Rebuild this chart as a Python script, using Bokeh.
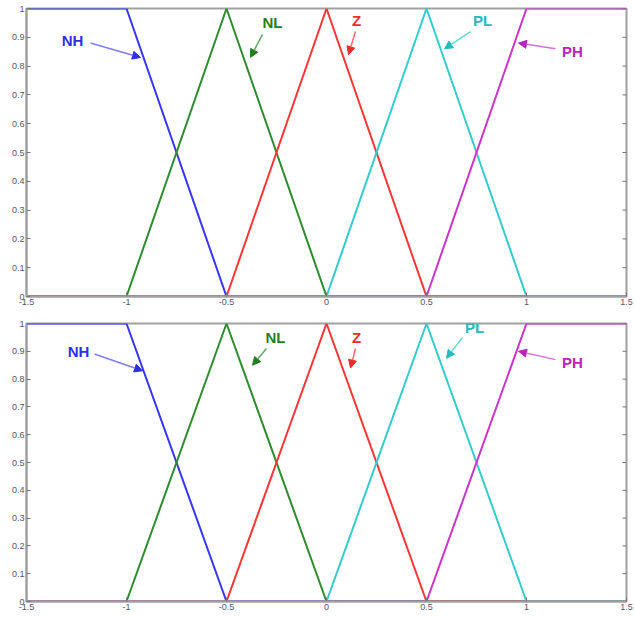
from bokeh.plotting import figure
from bokeh.models import Arrow, NormalHead, Label, FixedTicker, Range1d
from bokeh.layouts import column
from bokeh.embed import file_html
from bokeh.resources import INLINE

# membership functions (breakpoints)
mf_names = ["NH", "NL", "Z", "PL", "PH"]
NH_x = [-1.5, -1.0, -0.5, 1.5]
NH_y = [1, 1, 0, 0]
NL_x = [-1.5, -1.0, -0.5, 0.0, 1.5]
NL_y = [0, 0, 1, 0, 0]
Z_x = [-1.5, -0.5, 0.0, 0.5, 1.5]
Z_y = [0, 0, 1, 0, 0]
PL_x = [-1.5, 0.0, 0.5, 1.0, 1.5]
PL_y = [0, 0, 1, 0, 0]
PH_x = [-1.5, 0.5, 1.0, 1.5]
PH_y = [0, 0, 1, 1]

x_ticks = [-1.5, -1, -0.5, 0, 0.5, 1, 1.5]
y_ticks = [0, 0.1, 0.2, 0.3, 0.4, 0.5, 0.6, 0.7, 0.8, 0.9, 1]

line_colors = ["#3535ff", "#2e8b2e", "#ff3535", "#33cccc", "#cc33cc"]
label_colors = ["#2f2fe8", "#1f7f1f", "#f02a2a", "#22bcbc", "#b825b8"]
arrow_colors = ["#7d7dff", "#60a860", "#ff6a6a", "#66d8d8", "#d870d8"]

# annotation placement (label x, label y, arrow start, arrow end) per panel
top_ann = [
    (-1.27, 0.89, -1.18, 0.88, -0.93, 0.83),
    (-0.27, 0.95, -0.32, 0.91, -0.38, 0.83),
    (0.15, 0.96, 0.145, 0.92, 0.11, 0.84),
    (0.78, 0.96, 0.72, 0.92, 0.59, 0.86),
    (1.23, 0.85, 1.145, 0.86, 0.96, 0.88),
]
bot_ann = [
    (-1.24, 0.90, -1.16, 0.89, -0.92, 0.83),
    (-0.255, 0.95, -0.30, 0.91, -0.37, 0.85),
    (0.15, 0.95, 0.145, 0.91, 0.12, 0.84),
    (0.74, 0.985, 0.68, 0.95, 0.60, 0.875),
    (1.23, 0.86, 1.145, 0.87, 0.96, 0.90),
]

series = [(NH_x, NH_y), (NL_x, NL_y), (Z_x, Z_y), (PL_x, PL_y), (PH_x, PH_y)]


def make_panel(ann, height, top, bottom, frame_h):
    p = figure(width=635, height=height, output_backend="svg", toolbar_location=None,
               x_range=Range1d(-1.5, 1.5), y_range=Range1d(0, 1),
               min_border_left=26, min_border_right=9, min_border_top=top,
               min_border_bottom=bottom, frame_width=600, frame_height=frame_h)
    p.grid.visible = False
    p.background_fill_color = "white"
    p.border_fill_color = "white"
    p.outline_line_color = "#a0a0a0"
    p.outline_line_width = 2
    for ax in (p.xaxis[0], p.yaxis[0]):
        ax.major_tick_in = 4
        ax.major_tick_out = 0
        ax.minor_tick_line_color = None
        ax.axis_line_color = "#a0a0a0"
        ax.axis_line_width = 2
        ax.major_tick_line_color = "#777777"
        ax.major_label_text_font = "Liberation Sans"
        ax.major_label_text_font_size = "9px"
        ax.major_label_text_color = "#555566"
        ax.major_label_standoff = 2
    p.xaxis.ticker = FixedTicker(ticks=x_ticks)
    p.yaxis.ticker = FixedTicker(ticks=y_ticks)
    p.xaxis.major_label_overrides = {-1.5: "-1.5", -1: "-1", -0.5: "-0.5", 0: "0",
                                     0.5: "0.5", 1: "1", 1.5: "1.5"}
    p.yaxis.major_label_overrides = {0: "0", 1: "1"}
    # right-side inner ticks (MATLAB box style)
    p.scatter([x_ticks[-1]] * len(y_ticks), y_ticks, marker="dash", size=8,
              line_color="#777777", line_width=1)
    for (xs, ys), c in zip(series, line_colors):
        p.line(xs, ys, line_color=c, line_width=2)
    for name, a, lc, ac in zip(mf_names, ann, label_colors, arrow_colors):
        lx, ly, xs_, ys_, xe, ye = a
        p.add_layout(Arrow(end=NormalHead(size=8, fill_color=lc, line_color=lc, line_width=1),
                           x_start=xs_, y_start=ys_, x_end=xe, y_end=ye,
                           line_color=ac, line_width=1.5))
        p.add_layout(Label(x=lx, y=ly, text=name, text_color=lc, text_font="Liberation Sans",
                           text_font_style="bold", text_font_size="15px",
                           text_align="center", text_baseline="middle"))
    return p


p1 = make_panel(top_ann, 310, 8, 14, 288)
p2 = make_panel(bot_ann, 308, 13, 17, 278)
layout = column(p1, p2, spacing=0)

open("out.html", "w").write(file_html(layout, INLINE))
